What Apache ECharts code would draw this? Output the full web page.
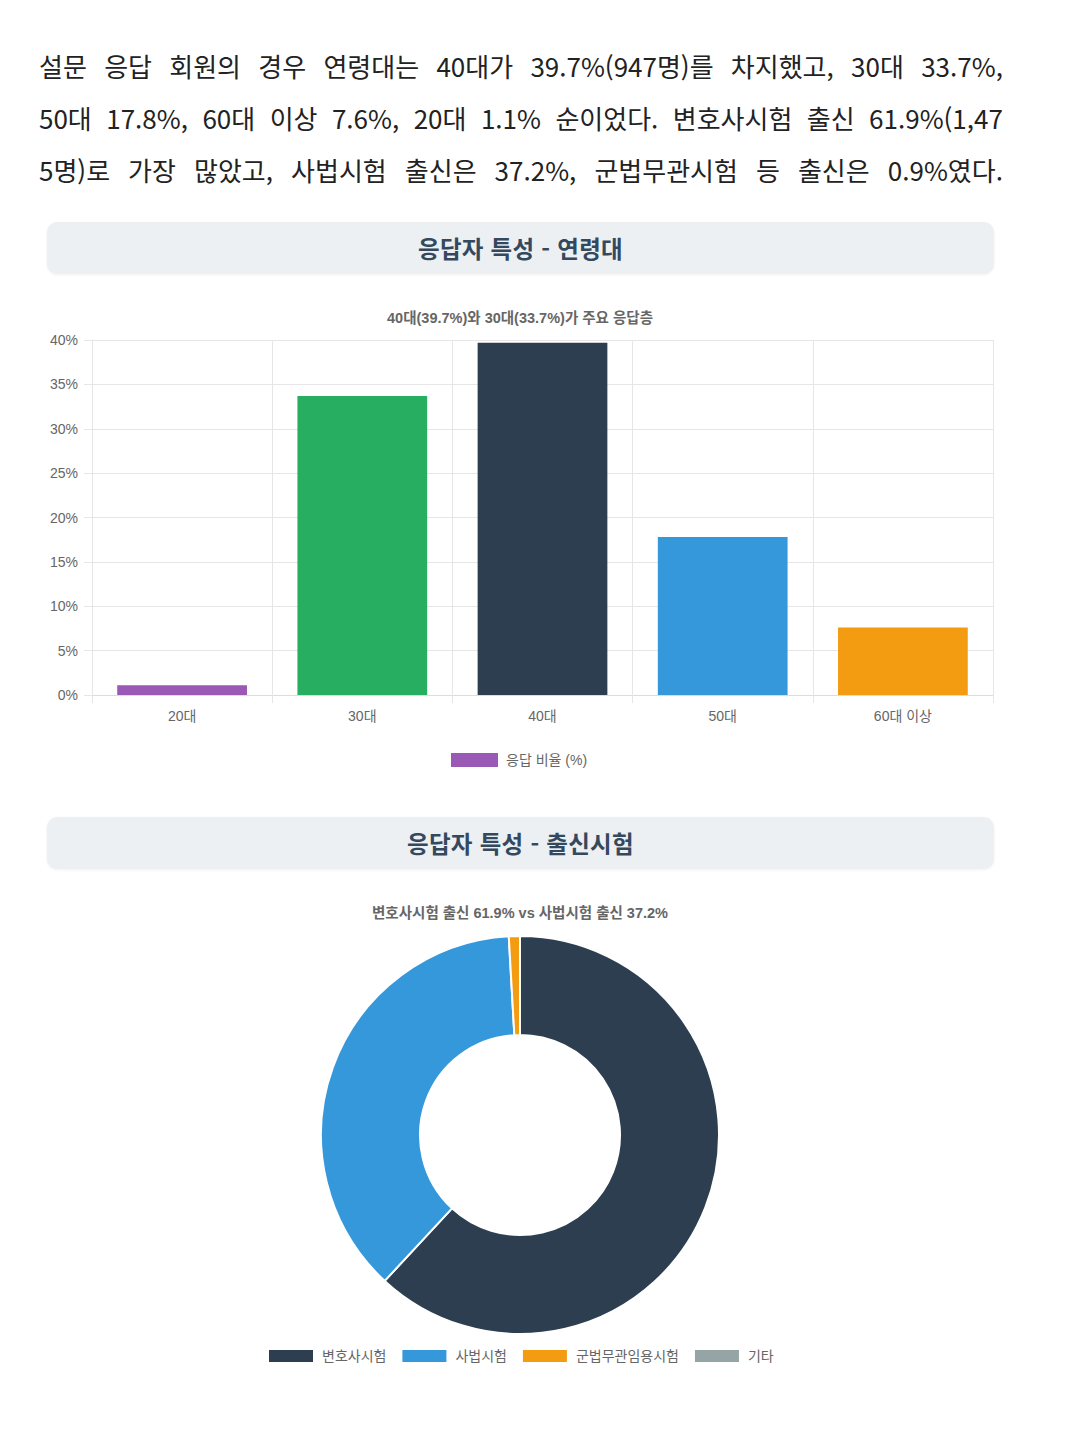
<!DOCTYPE html>
<html lang="ko">
<head>
<meta charset="utf-8">
<script src="https://cdn.jsdelivr.net/npm/echarts@6/dist/echarts.min.js"></script>
<style>
  html, body { margin: 0; padding: 0; background: #ffffff; }
  body { width: 1075px; height: 1433px; position: relative; overflow: hidden;
         font-family: "Noto Sans CJK KR", "Noto Sans", sans-serif; }
  .para { position: absolute; left: 39px; width: 964px; color: #222; font-size: 26px;
          line-height: 52px; }
  .line { display: flex; justify-content: space-between; white-space: nowrap; height: 52px; }
  .hdr { position: absolute; left: 47px; width: 947px; height: 52px; border-radius: 10px;
         background: #ecf0f3; box-shadow: 0 1px 3px rgba(0,0,0,0.06);
         display: flex; align-items: center; justify-content: center; }
  .hdr span { font-size: 23.5px; font-weight: 700; color: #34495e; letter-spacing: 0.3px; }
  #chart { position: absolute; left: 0; top: 0; width: 1075px; height: 1433px; }
</style>
</head>
<body>
<div class="para" id="para" style="top:40px;"></div>
<div class="hdr" style="top:222px;"><span>응답자 특성 - 연령대</span></div>
<div class="hdr" style="top:817px;"><span>응답자 특성 - 출신시험</span></div>
<div id="chart"></div>
<script>
// ---- text ----
const paragraphLines = [
  "설문 응답 회원의 경우 연령대는 40대가 39.7%(947명)를 차지했고, 30대 33.7%,",
  "50대 17.8%, 60대 이상 7.6%, 20대 1.1% 순이었다. 변호사시험 출신 61.9%(1,47",
  "5명)로 가장 많았고, 사법시험 출신은 37.2%, 군법무관시험 등 출신은 0.9%였다."
];
const barTitle = "40대(39.7%)와 30대(33.7%)가 주요 응답층";
const pieTitle = "변호사시험 출신 61.9% vs 사법시험 출신 37.2%";

// ---- age data ----
const ageCategories = ["20대", "30대", "40대", "50대", "60대 이상"];
const ageValues = [1.1, 33.7, 39.7, 17.8, 7.6];
const ageColors = ["#9b59b6", "#27ae60", "#2c3e50", "#3498db", "#f39c12"];
const ageSeriesName = "응답 비율 (%)";
const yTicks = { min: 0, max: 40, interval: 5 };

// ---- exam data ----
const examNames = ["변호사시험", "사법시험", "군법무관임용시험", "기타"];
const examValues = [61.9, 37.2, 0.9, 0];
const examColors = ["#2c3e50", "#3498db", "#f39c12", "#95a5a6"];

// paragraph
const para = document.getElementById('para');
paragraphLines.forEach(function (ln) {
  const d = document.createElement('div');
  d.className = 'line';
  ln.split(' ').forEach(function (w) {
    const s = document.createElement('span');
    s.textContent = w;
    d.appendChild(s);
  });
  para.appendChild(d);
});

const FONT = '"Liberation Sans", "Noto Sans CJK KR", sans-serif';
const gridColor = '#e6e6e6';

const chart = echarts.init(document.getElementById('chart'), null, { renderer: 'svg' });
chart.setOption({
  animation: false,
  backgroundColor: 'transparent',
  textStyle: { fontFamily: FONT },
  graphic: [
    { type: 'text', x: 520, y: 318, style: { text: barTitle, fill: '#666', font: 'bold 14.5px ' + FONT, textAlign: 'center', textVerticalAlign: 'middle' } },
    { type: 'text', x: 520, y: 913, style: { text: pieTitle, fill: '#666', font: 'bold 14.5px ' + FONT, textAlign: 'center', textVerticalAlign: 'middle' } }
  ],
  legend: [
    {
      data: [ageSeriesName], left: 451, top: 753, padding: 0, itemWidth: 47, itemHeight: 14,
      icon: 'rect', selectedMode: false,
      textStyle: { color: '#666', fontSize: 14, fontFamily: FONT, padding: [0, 0, 0, 3] }
    },
    {
      data: examNames, left: 267, top: 1348, padding: 0, itemWidth: 46, itemHeight: 14, itemGap: 14,
      icon: 'rect', selectedMode: false,
      textStyle: { color: '#666', fontSize: 14, fontFamily: FONT, padding: [0, 0, 0, 3] }
    }
  ],
  grid: { left: 92, right: 82, top: 340, bottom: 1433 - 695, outerBoundsMode: 'none', containLabel: false },
  xAxis: {
    type: 'category', data: ageCategories, boundaryGap: true,
    axisLine: { show: true, lineStyle: { color: '#dcdcdc' } },
    axisTick: { show: true, length: 8, lineStyle: { color: gridColor } },
    splitLine: { show: true, lineStyle: { color: gridColor } },
    axisLabel: { color: '#666', fontSize: 14, margin: 14, fontFamily: FONT }
  },
  yAxis: {
    type: 'value', min: yTicks.min, max: yTicks.max, interval: yTicks.interval,
    axisLine: { show: true, lineStyle: { color: gridColor } },
    axisTick: { show: true, length: 8, lineStyle: { color: gridColor } },
    splitLine: { show: true, lineStyle: { color: gridColor } },
    axisLabel: { color: '#666', fontSize: 14, margin: 14, formatter: '{value}%', fontFamily: FONT }
  },
  series: [
    {
      name: ageSeriesName, type: 'bar', barCategoryGap: '28%',
      itemStyle: { color: ageColors[0] },
      data: ageValues.map(function (v, i) { return { value: v, itemStyle: { color: ageColors[i] } }; })
    },
    {
      name: '출신시험', type: 'pie', center: [520, 1135], radius: [100, 199],
      startAngle: 90, clockwise: true, avoidLabelOverlap: false,
      label: { show: false }, labelLine: { show: false },
      itemStyle: { borderColor: '#fff', borderWidth: 2 },
      data: examNames.map(function (n, i) { return { name: n, value: examValues[i], itemStyle: { color: examColors[i] } }; })
    }
  ]
});
</script>
</body>
</html>
